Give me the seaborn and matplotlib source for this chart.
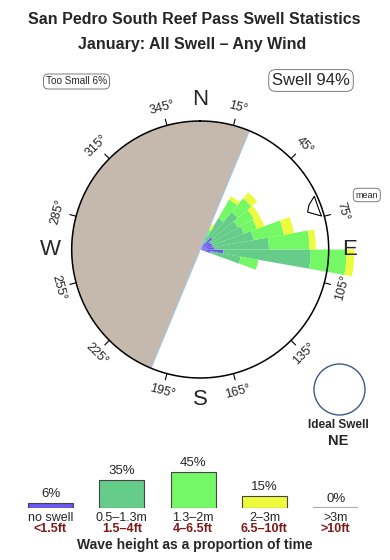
import numpy as np
import pandas as pd
import matplotlib
matplotlib.use("Agg")
import matplotlib.pyplot as plt
import seaborn as sns
from matplotlib.patches import Ellipse

# ---------------- data ----------------
title1 = "San Pedro South Reef Pass Swell Statistics"
title2 = "January: All Swell \u2013 Any Wind"
too_small_pct = 6
swell_pct = 94
ideal_dir = "NE"
mean_dir_deg = 70

bin_start_deg = [20, 30, 40, 50, 60, 70, 80, 90, 100]
bin_width_deg = 10
# cumulative outer radius of each band (1.0 = compass circle)
r_noswell = [0.03, 0.06, 0.125, 0.09, 0.10, 0.10, 0.11, 0.18, 0.08]
r_small   = [0.12, 0.28, 0.38, 0.34, 0.36, 0.42, 0.535, 0.86, 0.32]
r_medium  = [0.17, 0.45, 0.52, 0.48, 0.47, 0.66, 0.85, 1.14, 0.46]
r_large   = [0.21, 0.48, 0.58, 0.53, 0.53, 0.74, 0.90, 1.20, 0.46]

shadow_start_deg = 202.5
shadow_width_deg = 180

tick_deg = [15, 45, 75, 105, 135, 165, 195, 225, 255, 285, 315, 345]
compass_labels = ["N", "E", "S", "W"]
compass_deg = [0, 90, 180, 270]

categories = ["no swell", "0.5\u20131.3m", "1.3\u20132m", "2\u20133m", ">3m"]
feet_labels = ["<1.5ft", "1.5\u20134ft", "4\u20136.5ft", "6.5\u201310ft", ">10ft"]
pcts = [6, 35, 45, 15, 0]
colors = ["#6a58f0", "#66cc8a", "#74f866", "#eefa3c", "#b8a8a8"]

# ---------------- style ----------------
sns.set_theme(style="white")
plt.rcParams['font.family'] = ['Liberation Sans', 'DejaVu Sans']

W, H = 390, 560
fig = plt.figure(figsize=(W / 100, H / 100), dpi=100)

def fx(x):
    return x / W

def fy(y):
    return 1 - y / H

# titles
fig.text(fx(194), fy(19), title1, ha='center', va='center', fontsize=11.5, fontweight='bold')
fig.text(fx(192), fy(44), title2, ha='center', va='center', fontsize=11.5, fontweight='bold')

fig.text(fx(76.5), fy(81.5), f"Too Small {too_small_pct}%", ha='center', va='center', fontsize=7.2,
         bbox=dict(boxstyle='round,pad=0.25,rounding_size=0.5', fc='white', ec='#666666', lw=0.6))
fig.text(fx(311), fy(80.5), f"Swell {swell_pct}%", ha='center', va='center', fontsize=12,
         bbox=dict(boxstyle='round,pad=0.2,rounding_size=0.4', fc='white', ec='#666666', lw=0.6))

# ---------------- rose ----------------
cx, cy, R = 200.2, 249.5, 128.5
rmax = 1.3
half = rmax * R
ax = fig.add_axes([fx(cx - half), (H - cy - half) / H, 2 * half / W, 2 * half / H], projection='polar')
ax.set_theta_zero_location('N')
ax.set_theta_direction(-1)
ax.set_ylim(0, rmax)
ax.axis('off')

theta0 = np.deg2rad(bin_start_deg)
wid = np.deg2rad(bin_width_deg)
layers = [(np.zeros(len(r_noswell)), np.array(r_noswell), colors[0]),
          (np.array(r_noswell), np.array(r_small), colors[1]),
          (np.array(r_small), np.array(r_medium), colors[2]),
          (np.array(r_medium), np.array(r_large), colors[3])]
for inner, outer, col in layers:
    ax.bar(theta0, outer - inner, width=wid, bottom=inner, align='edge',
           color=col, linewidth=0, zorder=2)

# shadow (blocked directions)
ax.bar(np.deg2rad(shadow_start_deg), 1.0, width=np.deg2rad(shadow_width_deg), bottom=0,
       align='edge', color='#c5b9ad', linewidth=0, zorder=3)
for d in [shadow_start_deg, shadow_start_deg + shadow_width_deg]:
    ax.plot([np.deg2rad(d)] * 2, [0, 1], color='#9fc6e6', lw=0.8, zorder=4)

th = np.linspace(0, 2 * np.pi, 500)
ax.plot(th, np.ones_like(th), color='black', lw=1.1, zorder=5)

for d in tick_deg:
    t = np.deg2rad(d)
    ax.plot([t, t], [1.0, 1.05], color='black', lw=0.8, zorder=5)
    rot = -d if (d < 90 or d > 270) else 180 - d
    ax.text(t, 1.145, f"{d}\u00b0", rotation=rot, rotation_mode='anchor',
            ha='center', va='center', fontsize=9)

for lab, d in zip(compass_labels, compass_deg):
    ax.text(np.deg2rad(d), 1.165, lab, ha='center', va='center', fontsize=16)

# mean direction pointer
md = mean_dir_deg
ax.fill(np.deg2rad([md - 5.0, md - 2.3, md + 0.8, md + 4.6, md + 2.2]),
        [0.98, 0.915, 0.885, 0.98, 0.975],
        facecolor='white', edgecolor='black', lw=0.8, zorder=6)

fig.text(fx(366.8), fy(195), "mean", ha='center', va='center', fontsize=6.5,
         bbox=dict(boxstyle='round,pad=0.25,rounding_size=0.5', fc='white', ec='#666666', lw=0.6))

# ideal swell
fig.add_artist(Ellipse((fx(339.5), fy(389.5)), width=51 / W, height=51 / H,
                       transform=fig.transFigure, fill=False, ec='#3b5a85', lw=1.0))
fig.text(fx(338), fy(425), "Ideal Swell", ha='center', va='center', fontsize=8.5, fontweight='bold')
fig.text(fx(338), fy(441), ideal_dir, ha='center', va='center', fontsize=10.5, fontweight='bold')

# ---------------- bar chart ----------------
spacing = 71.3
left = 50.5 - spacing / 2
base_y = 507.7
axb = fig.add_axes([fx(left), (H - base_y) / H, 5 * spacing / W, 50 / H])
df = pd.DataFrame({"cat": categories, "pct": pcts})
sns.barplot(data=df, x="cat", y="pct", hue="cat", palette=colors, width=0.63, saturation=1,
            edgecolor='#444444', linewidth=0.8, legend=False, ax=axb)
axb.set_xlim(-0.5, 4.5)
axb.set_ylim(0, 62.5)
axb.axis('off')
for p in axb.patches:
    if p.get_height() == 0:
        p.set_edgecolor(colors[4])
        p.set_linewidth(1.6)

for i, (p, c, f) in enumerate(zip(pcts, categories, feet_labels)):
    axb.annotate(f"{p}%", (i, p), xytext=(0, 6.2), textcoords='offset points',
                 ha='center', va='center', fontsize=9.5, annotation_clip=False)
    axb.annotate(c, (i, 0), xytext=(0, -7.6), textcoords='offset points',
                 ha='center', va='center', fontsize=9, annotation_clip=False)
    axb.annotate(f, (i, 0), xytext=(0, -15.5), textcoords='offset points',
                 ha='center', va='center', fontsize=9, fontweight='bold',
                 color='#801818', annotation_clip=False)

fig.text(fx(194.5), fy(545), "Wave height as a proportion of time", ha='center', va='center',
         fontsize=10, fontweight='bold')

fig.savefig("out.png", dpi=100)
